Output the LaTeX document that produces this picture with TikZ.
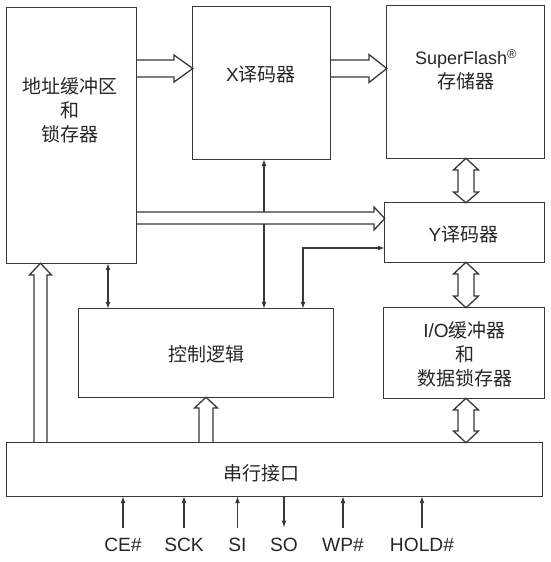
\documentclass[tikz,border=0pt]{standalone}
\usepackage{fontspec}
\setmainfont{Liberation Sans}
\newfontfamily\cjk{Noto Sans CJK SC}
\usetikzlibrary{arrows.meta,calc}
\definecolor{lc}{gray}{0.22}
\definecolor{tc}{gray}{0.15}
\begin{document}
\begin{tikzpicture}[x=1pt,y=-1pt,
  box/.style={draw=lc, line width=1.3pt, inner sep=0pt},
  txt/.style={text=tc, inner sep=0pt, align=center, font=\fontsize{19}{24}\selectfont},
  siglabel/.style={text=tc, inner sep=0pt, font=\fontsize{19.2}{22}\selectfont},
  fat/.style={draw=lc, line width=1.3pt, fill=white, line join=miter},
  thinline/.style={draw=lc, line width=1.2pt},
  tip/.tip={Latex[length=7pt,width=5pt]}
]
\useasboundingbox (0,0) rectangle (551,562);

% box placement
\path
  node[minimum width=129pt, minimum height=255pt, inner sep=0pt] (addr)   at (71.5,135.5) {}
  node[minimum width=137pt, minimum height=152pt, inner sep=0pt] (xdec)   at (261.5,83) {}
  node[minimum width=157pt, minimum height=152pt, inner sep=0pt] (flash)  at (465.5,82) {}
  node[minimum width=159pt, minimum height=59pt,  inner sep=0pt] (ydec)   at (464.5,232.5) {}
  node[minimum width=254pt, minimum height=88pt,  inner sep=0pt] (ctrl)   at (206,353) {}
  node[minimum width=160pt, minimum height=90pt,  inner sep=0pt] (io)     at (464,353) {}
  node[minimum width=535pt, minimum height=53pt,  inner sep=0pt] (serial) at (274.5,469.5) {};

% thin connectors
\draw[thinline, tip-tip] (xdec.south -| 264,0) -- (ctrl.north -| 264,0);
\draw[thinline, tip-tip] (addr.south -| 108,0) -- (ctrl.north -| 108,0);
\draw[thinline, tip-tip] (ctrl.north -| 303,0) -- (303,248) -- (ydec.west |- 0,248);

% fat arrows
\draw[fat] (addr.east |- 0,60) -- (174,60) -- (174,55) -- (xdec.west |- 0,68.5)
  -- (174,82) -- (174,77) -- (addr.east |- 0,77);
\draw[fat] (xdec.east |- 0,60) -- (369,60) -- (369,54.5) -- (flash.west |- 0,68.5)
  -- (369,82.5) -- (369,77) -- (xdec.east |- 0,77);
\draw[fat] (addr.east |- 0,212) -- (374,212) -- (374,207) -- (ydec.west |- 0,218.5)
  -- (374,230) -- (374,224) -- (addr.east |- 0,224);

\draw[fat] (flash.south -| 466,0) -- (478.5,170) -- (474,170) -- (474,192) -- (478.5,192)
  -- (ydec.north -| 466,0) -- (453.5,192) -- (458,192) -- (458,170) -- (453.5,170) -- cycle;
\draw[fat] (ydec.south -| 466,0) -- (478.5,274) -- (474,274) -- (474,296) -- (478.5,296)
  -- (io.north -| 466,0) -- (453.5,296) -- (458,296) -- (458,274) -- (453.5,274) -- cycle;
\draw[fat] (io.south -| 466,0) -- (478.5,410) -- (474,410) -- (474,431) -- (478.5,431)
  -- (serial.north -| 466,0) -- (453.5,431) -- (458,431) -- (458,410) -- (453.5,410) -- cycle;

\draw[fat] (serial.north -| 34,0) -- (34,275) -- (29.5,275) -- (addr.south -| 40.5,0)
  -- (51.5,275) -- (47,275) -- (serial.north -| 47,0);
\draw[fat] (serial.north -| 199,0) -- (199,408) -- (194.5,408) -- (ctrl.south -| 206,0)
  -- (217.5,408) -- (213,408) -- (serial.north -| 213,0);

% box outlines
\foreach \b in {addr,xdec,flash,ydec,ctrl,io,serial}
  \draw[box] (\b.north west) rectangle (\b.south east);

% texts
\node[txt] (addrT)   at (70,110)   {{\cjk 地址缓冲区}\\{\cjk 和}\\{\cjk 锁存器}};
\node[txt] (xdecT)   at (261,75)   {X{\cjk 译码器}};
\node[txt] (flashT)  at (466,70)   {{\fontsize{18}{24}\selectfont SuperFlash\textsuperscript{®}}\\{\cjk 存储器}};
\node[txt] (ydecT)   at (463.5,235) {Y{\cjk 译码器}};
\node[txt] (ctrlT)   at (206,354)  {{\cjk 控制逻辑}};
\node[txt] (ioT)     at (464.5,354) {I/O{\cjk 缓冲器}\\{\cjk 和}\\{\cjk 数据锁存器}};
\node[txt] (serialT) at (261,473)  {{\cjk 串行接口}};

% signals
\node[siglabel] (ce)   at (123,545) {CE\#};
\node[siglabel] (sck)  at (184,545) {SCK};
\node[siglabel] (si)   at (237.5,545) {SI};
\node[siglabel] (so)   at (284,545) {SO};
\node[siglabel] (wp)   at (343,545) {WP\#};
\node[siglabel] (hold) at (422,545) {HOLD\#};

\foreach \s in {ce,sck,si,wp,hold}
  \draw[thinline, -tip] ([yshift=10.5pt]\s.north) -- (\s.north |- serial.south);
\draw[thinline, -tip] (so.north |- serial.south) -- ([yshift=10.5pt]so.north);
\end{tikzpicture}
\end{document}
